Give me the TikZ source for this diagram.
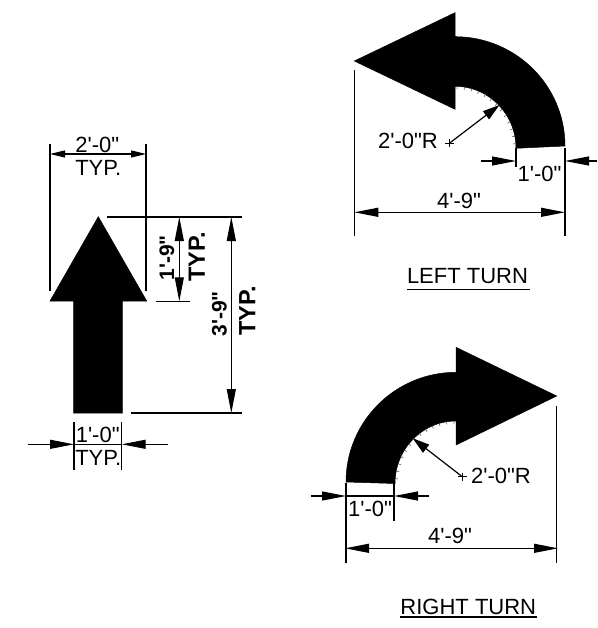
\documentclass[tikz,border=0pt]{standalone}
\usepackage{fontspec}
\setmainfont{Liberation Sans}[Ligatures=TeXOff]
\usetikzlibrary{arrows.meta}
\tikzset{
  lab/.style={inner sep=0pt,font=\fontsize{22}{24}\selectfont},
  rotlab/.style={inner sep=0pt,rotate=90,font=\fontsize{21}{24}\selectfont\bfseries},
  rottyp/.style={inner sep=0pt,rotate=90,font=\fontsize{23.5}{24}\selectfont\bfseries},
  dimline/.style={line width=1.2pt,black},
  bigtip/.style={-{Triangle[length=24pt,width=9pt]},line width=1.2pt},
  smalltip/.style={-{Triangle[length=15pt,width=7pt]},line width=1.2pt},
  leadtip/.style={-{Triangle[length=17pt,width=10pt]},line width=1.2pt},
  tick/.style={line width=0.6pt,black!65},
  solidfill/.style={fill=black,draw=black,line width=0.5pt}
}
\begin{document}
\begin{tikzpicture}[x=1pt,y=-1pt]
\useasboundingbox (0,0) rectangle (597,628);
% ---- straight arrow
\fill[solidfill] (98.3,216.7) -- (146.7,301) -- (122.3,301) -- (122.3,413) -- (73.5,413) -- (73.5,301) -- (50,301) -- cycle;
\coordinate (a1) at (50,144); \coordinate (a2) at (50,290.7);
\coordinate (b1) at (146,144); \coordinate (b2) at (146,290.7);
\draw[dimline] (a1) -- (a2); \draw[dimline] (b1) -- (b2);
\coordinate (wl) at (50,154); \coordinate (wr) at (146,154); \coordinate (wm) at (98,154);
\draw[smalltip] (wm) -- (wl); \draw[smalltip] (wm) -- (wr);
\node[lab] (t1) at (97.3,145) {2'-0"};
\node[lab] (t2) at (98.3,168) {TYP.};
\coordinate (h1) at (107.3,217); \coordinate (h2) at (241.7,217);
\coordinate (h3) at (155.7,301.3); \coordinate (h4) at (190,301.3);
\coordinate (h5) at (131,413); \coordinate (h6) at (241.7,413);
\draw[dimline] (h1) -- (h2); \draw[dimline] (h3) -- (h4); \draw[dimline] (h5) -- (h6);
\coordinate (d1t) at (179.3,217); \coordinate (d1b) at (179.3,301.3); \coordinate (d1m) at (179.3,259);
\draw[bigtip] (d1m) -- (d1t); \draw[bigtip] (d1m) -- (d1b);
\coordinate (d2t) at (231.3,217); \coordinate (d2b) at (231.3,413); \coordinate (d2m) at (231.3,315);
\draw[bigtip] (d2m) -- (d2t); \draw[bigtip] (d2m) -- (d2b);
\node[rotlab] (t3) at (167,258) {1'-9"};
\node[rottyp] (t4) at (196.7,257) {TYP.};
\node[rotlab] (t5) at (219.3,314) {3'-9"};
\node[rottyp] (t6) at (247.3,311) {TYP.};
\coordinate (e1) at (74,421.7); \coordinate (e2) at (74,470);
\coordinate (e3) at (121.7,421.7); \coordinate (e4) at (121.7,470);
\draw[dimline] (e1) -- (e2); \draw[dimline] (e3) -- (e4);
\coordinate (f1) at (28.3,444.3); \coordinate (f2) at (74,444.3);
\coordinate (f3) at (167.7,444.3); \coordinate (f4) at (121.7,444.3);
\draw[bigtip] (f1) -- (f2); \draw[bigtip] (f3) -- (f4); \draw[dimline] (f2) -- (f4);
\node[lab] (t7) at (97.7,435) {1'-0"};
\node[lab] (t8) at (98.3,458) {TYP.};
% ---- left turn
\fill[solidfill] (354.3,61) -- (455,12.7) -- (455,36.7) arc[start angle=90,end angle=0,x radius=110,y radius=-109.3] -- (516,148.3) arc[start angle=0,end angle=90,x radius=61,y radius=-62] -- (455,109.3) -- cycle;
\foreach \a in {4,11,...,88} {
  \draw[tick] ({455+61*cos(\a)},{148-62*sin(\a)}) -- ({455+58*cos(\a)},{148-59*sin(\a)});
}
\coordinate (l1) at (354.3,70); \coordinate (l2) at (354.3,236);
\coordinate (l3) at (565,148); \coordinate (l4) at (565,236);
\coordinate (l5) at (516,148.3); \coordinate (l6) at (516,167);
\draw[dimline] (l1) -- (l2); \draw[dimline] (l3) -- (l4); \draw[dimline] (l5) -- (l6);
\coordinate (m1) at (481.3,161); \coordinate (m2) at (516,161);
\coordinate (m3) at (597,161); \coordinate (m4) at (565,161);
\draw[bigtip] (m1) -- (m2); \draw[bigtip] (m3) -- (m4);
\coordinate (n1) at (354.3,212.3); \coordinate (n2) at (565,212.3); \coordinate (nm) at (460,212.3);
\draw[bigtip] (nm) -- (n1); \draw[bigtip] (nm) -- (n2);
\coordinate (c1) at (449.3,143.3); \coordinate (c2) at (499.5,105);
\draw[leadtip] (c1) -- (c2);
\draw[dimline] (445,143.3) -- (453.5,143.3) (449.3,139) -- (449.3,147.5);
\node[lab] (t9) at (408,141) {2'-0"R};
\node[lab] (t10) at (539.5,174) {1'-0"};
\node[lab] (t11) at (459,201) {4'-9"};
\node[lab] (t12) at (467.5,276) {LEFT TURN};
\coordinate (u1) at (406.7,289.5); \coordinate (u2) at (530,289.5);
\draw[dimline] (u1) -- (u2);
% ---- right turn
\fill[solidfill] (556.7,396) -- (456,347.3) -- (456,372.3) arc[start angle=90,end angle=180,x radius=110,y radius=-109.7] -- (395,483.5) arc[start angle=180,end angle=90,x radius=61,y radius=-62.5] -- (456,445) -- cycle;
\foreach \a in {92,99,...,176} {
  \draw[tick] ({456+61*cos(\a)},{483-62.3*sin(\a)}) -- ({456+58*cos(\a)},{483-59.3*sin(\a)});
}
\coordinate (p1) at (346,482.7); \coordinate (p2) at (346,563.3);
\coordinate (p3) at (394,483); \coordinate (p4) at (394,520.7);
\coordinate (p5) at (556.7,406); \coordinate (p6) at (556.7,563.3);
\draw[dimline] (p1) -- (p2); \draw[dimline] (p3) -- (p4); \draw[dimline] (p5) -- (p6);
\coordinate (q1) at (310.7,496); \coordinate (q2) at (346,496);
\coordinate (q3) at (429.3,496); \coordinate (q4) at (394,496);
\draw[bigtip] (q1) -- (q2); \draw[bigtip] (q3) -- (q4); \draw[dimline] (q2) -- (q4);
\coordinate (r1) at (345,548.3); \coordinate (r2) at (558,548.3); \coordinate (rm) at (450,548.3);
\draw[bigtip] (rm) -- (r1); \draw[bigtip] (rm) -- (r2);
\coordinate (s1) at (462.3,476.7); \coordinate (s2) at (412.7,438.3);
\draw[leadtip] (s1) -- (s2);
\draw[dimline] (458,476.7) -- (466.5,476.7) (462.3,472.5) -- (462.3,481);
\node[lab] (t13) at (501,476) {2'-0"R};
\node[lab] (t14) at (370,509) {1'-0"};
\node[lab] (t15) at (450,536) {4'-9"};
\node[lab] (t16) at (468.3,606.7) {RIGHT TURN};
\coordinate (v1) at (400,617); \coordinate (v2) at (537,617);
\draw[dimline] (v1) -- (v2);
\end{tikzpicture}
\end{document}
